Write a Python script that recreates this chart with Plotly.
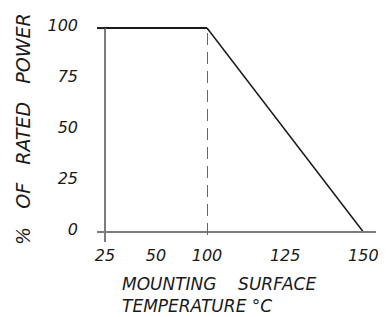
import numpy as np
import plotly.graph_objects as go

# ---- data ----
temperature = [25, 100, 150]          # mounting surface temperature, °C
rated_power = [100, 100, 0]           # % of rated power
x_tick_low = [25, 50]                 # ticks on the low-temperature section
x_tick_high = [100, 125, 150]         # ticks on the derating section
y_ticks = [0, 25, 50, 75, 100]
y_title = "%\u00a0\u00a0\u00a0OF\u00a0\u00a0\u00a0RATED\u00a0\u00a0\u00a0POWER"
x_title = "MOUNTING\u00a0\u00a0\u00a0\u00a0SURFACE<br>TEMPERATURE\u00a0°C"

knee = temperature[1]
t = np.array(temperature)
p = np.array(rated_power)
low = t <= knee
high = t >= knee

# the page body adds an 8px margin, so the figure is laid out 8px smaller
OFF = 8
W, H = 386 - OFF, 317 - OFF
L, R, T, B = 105 - OFF, 379 - OFF, 24 - OFF, 236 - OFF   # plot area in figure px
pw, ph = R - L, B - T
split = (207 - OFF - L) / pw

FONT = "DejaVu Sans"
ink = "#1a1a1a"
axis_grey = "#7c7c7c"

fig = go.Figure()
fig.add_trace(go.Scatter(x=t[low], y=p[low], mode="lines", xaxis="x", yaxis="y",
                         line=dict(color=ink, width=2), showlegend=False, hoverinfo="skip"))
fig.add_trace(go.Scatter(x=t[high], y=p[high], mode="lines", xaxis="x2", yaxis="y",
                         line=dict(color=ink, width=1.5), showlegend=False, hoverinfo="skip"))

tickfont = dict(family=FONT, size=16, color=ink, style="italic")

fig.update_layout(
    width=W, height=H,
    margin=dict(l=L, r=W - R, t=T, b=H - B, pad=0, autoexpand=False),
    paper_bgcolor="white", plot_bgcolor="white",
    xaxis=dict(type="log", domain=[0, split], range=[np.log10(temperature[0]), np.log10(knee)],
               anchor="y", tickmode="array", tickvals=x_tick_low, ticktext=[str(v) for v in x_tick_low],
               showgrid=False, zeroline=False, showline=False, ticks="", automargin=False,
               tickfont=tickfont, ticklabelstandoff=8),
    xaxis2=dict(domain=[split, 1], range=[knee, 155], anchor="y",
                tickmode="array", tickvals=x_tick_high, ticktext=[str(v) for v in x_tick_high],
                showgrid=False, zeroline=False, showline=False, ticks="", automargin=False,
                tickfont=tickfont, ticklabelstandoff=8),
    yaxis=dict(range=[-2, 102], tickmode="array", tickvals=y_ticks,
               ticktext=[str(v) for v in y_ticks], automargin=False,
               showgrid=False, zeroline=False, showline=False, ticks="",
               tickfont=tickfont, ticklabelstandoff=26, ticklabelshift=-3),
)

def px_x(px):
    """reference-picture x pixel -> paper fraction"""
    return (px - OFF - L) / pw

def px_y(py):
    """reference-picture y pixel -> paper fraction"""
    return (B - (py - OFF)) / ph

shapes = [
    # x axis line (extends a little left of the y axis)
    dict(type="line", xref="paper", yref="y", x0=px_x(97), x1=px_x(376), y0=0, y1=0,
         line=dict(color=axis_grey, width=2)),
    # y axis line (extends a little below the x axis)
    dict(type="line", xref="paper", yref="paper", x0=0, x1=0, y0=px_y(242), y1=px_y(28),
         line=dict(color=axis_grey, width=2)),
    # 100 % line extension to the left
    dict(type="line", xref="paper", yref="y", x0=px_x(97), x1=0, y0=rated_power[0], y1=rated_power[0],
         line=dict(color=ink, width=2)),
    # dashed line at the knee
    dict(type="line", xref="x2", yref="paper", x0=knee, x1=knee, y0=px_y(235), y1=px_y(33),
         line=dict(color="#666666", width=2, dash="12px,7px")),
]
fig.update_layout(shapes=shapes)

fig.add_annotation(text=x_title, xref="paper", yref="paper", x=px_x(120), y=px_y(272),
                   xanchor="left", yanchor="top", align="left", showarrow=False,
                   font=dict(family=FONT, size=17, color=ink, style="italic"))
fig.add_annotation(text=y_title, xref="paper", yref="paper", x=px_x(23), y=px_y(129),
                   xanchor="center", yanchor="middle", textangle=-90, showarrow=False,
                   font=dict(family=FONT, size=19, color=ink, style="italic"))

fig.write_html("out.html")
